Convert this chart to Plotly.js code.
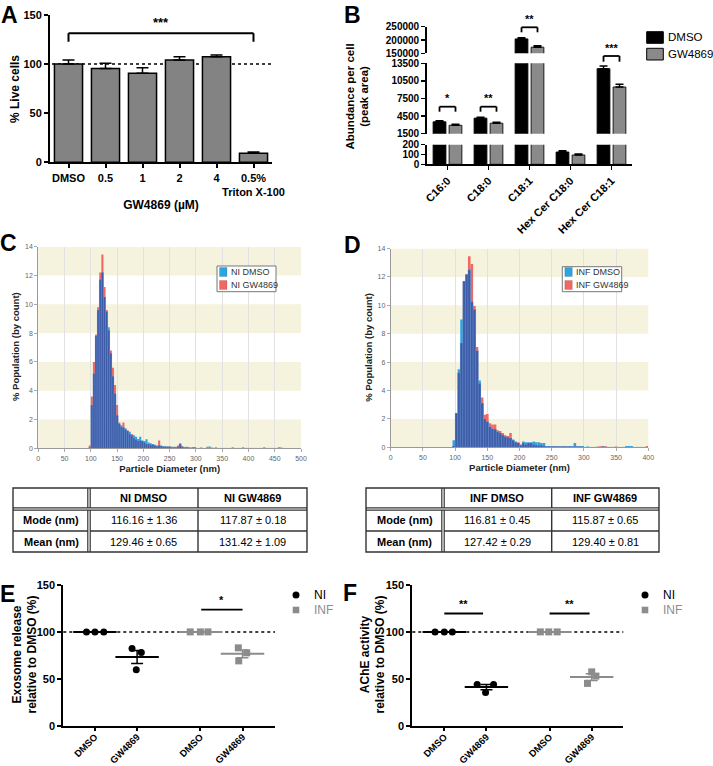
<!DOCTYPE html>
<html><head><meta charset="utf-8">
<script src="https://cdn.plot.ly/plotly-3.0.1.min.js"></script>
<style>html,body{margin:0;padding:0;background:#fff;} #chart{width:713px;height:766px;}</style>
</head><body><div id="chart"></div>
<script>
// ================= DATA =================
// Panel A: cell viability
const aCategories = ['DMSO', '0.5', '1', '2', '4', '0.5%<br>Triton X-100'];
const aLiveCells = [100, 95.4, 90.6, 104.2, 107.6, 9.2];
const aLiveCellsErr = [4.2, 5.4, 5.8, 3.4, 1.7, 1.3];

// Panel B: lipid abundance per cell (peak area)
const bLipids = ['C16:0', 'C18:0', 'C18:1', 'Hex Cer C18:0', 'Hex Cer C18:1'];
const bDMSO = [3520, 4150, 204000, 125, 12580];
const bDMSOErr = [180, 150, 4500, 12, 450];
const bGW = [2940, 3290, 173000, 95, 9460];
const bGWErr = [150, 150, 5000, 10, 450];
const bTicksBottom = [0, 100, 200];
const bTicksMiddle = [1500, 4500, 7500, 10500, 13500];
const bTicksTop = [150000, 200000, 250000];

// Panel C: NTA size distribution, NI (bins of 4 nm, first centre 98 nm)
const cBinStart = 98, cBinWidth = 4;
const cNIDMSO = [
  0.05, 3.0, 5.2, 7.8, 9.6, 11.7, 12.2, 10.5, 9.5, 8.4,
  6.6, 5.0, 3.8, 2.3, 1.7, 1.6, 1.45, 1.4, 1.2, 1.15,
  0.9, 0.9, 0.8, 0.65, 0.8, 0.55, 0.5, 0.62, 0.4, 0.35,
  0.3, 0.25, 0.2, 0.2, 0.2, 0.15, 0.15, 0.1, 0.1, 0.1,
  0.1, 0.05, 0.1, 0.3, 0.1, 0.05, 0.1, 0.05, 0.05, 0.05,
  0.05, 0, 0, 0.05, 0, 0, 0.1, 0.12, 0.05, 0,
  0, 0, 0, 0, 0, 0, 0, 0, 0, 0,
  0, 0, 0, 0, 0, 0, 0, 0, 0, 0,
  0, 0, 0, 0, 0, 0, 0, 0, 0, 0,
  0.08, 0.05, 0
];
const cNIGW = [
  0.2, 3.6, 6.0, 7.9, 9.8, 12.2, 13.45, 11.2, 9.6, 8.2,
  6.8, 5.6, 4.4, 3.0, 1.8, 1.5, 1.8, 1.3, 1.25, 1.0,
  1.0, 0.7, 0.6, 0.5, 0.55, 0.5, 0.4, 0.3, 0.3, 0.25,
  0.25, 0.2, 0.15, 0.55, 0.15, 0.1, 0.1, 0.1, 0.15, 0.05,
  0.05, 0.1, 0.2, 0.35, 0.15, 0.05, 0.05, 0.05, 0, 0.05,
  0.05, 0, 0, 0, 0, 0, 0, 0, 0, 0,
  0.08, 0, 0, 0, 0, 0, 0, 0, 0.08, 0,
  0, 0, 0, 0.08, 0, 0, 0, 0, 0, 0,
  0, 0, 0, 0.08, 0, 0, 0, 0, 0, 0,
  0, 0, 0
];

// Panel D: NTA size distribution, INF
const dBinStart = 98, dBinWidth = 4;
const dINFDMSO = [
  0.5, 2.4, 5.5, 9.0, 11.7, 12.15, 12.5, 10.25, 9.7, 6.8,
  4.7, 3.1, 2.0, 1.8, 1.45, 1.3, 1.27, 1.1, 1.0, 0.87,
  0.75, 0.7, 0.65, 0.55, 0.4, 0.3, 0.15, 0.4, 0.35, 0.35,
  0.35, 0.4, 0.35, 0.35, 0.3, 0.3, 0.1, 0.1, 0.05, 0.1,
  0.05, 0.05, 0.05, 0.05, 0.05, 0.1, 0.05, 0.3, 0.05, 0.1,
  0.1, 0, 0.05, 0, 0, 0, 0, 0, 0.05, 0,
  0, 0, 0, 0, 0, 0, 0, 0.1, 0.1, 0.1,
  0, 0, 0, 0, 0, 0
];
const dINFGW = [
  0.1, 2.4, 5.25, 7.35, 11.7, 12.2, 13.45, 12.9, 9.95, 7.07,
  4.5, 3.5, 2.3, 2.35, 1.7, 1.6, 1.6, 1.2, 1.15, 1.0,
  0.85, 0.8, 1.0, 0.5, 0.35, 0.35, 0.2, 0.3, 0.2, 0.3,
  0.3, 0.2, 0.15, 0.15, 0.15, 0.1, 0.05, 0.05, 0.1, 0.05,
  0.1, 0.05, 0.05, 0.1, 0.05, 0.05, 0.05, 0.05, 0.05, 0.05,
  0, 0, 0, 0, 0, 0, 0.05, 0.08, 0.08, 0.08,
  0, 0, 0, 0.05, 0, 0, 0, 0, 0, 0,
  0, 0, 0, 0, 0, 0.1
];

// Tables
const tRows = ['Mode (nm)', 'Mean (nm)'];
const tNIHeader = ['NI DMSO', 'NI GW4869'];
const tNIDMSO = ['116.16 ± 1.36', '129.46 ± 0.65'];
const tNIGW = ['117.87 ± 0.18', '131.42 ± 1.09'];
const tINFHeader = ['INF DMSO', 'INF GW4869'];
const tINFDMSO = ['116.81 ± 0.45', '127.42 ± 0.29'];
const tINFGW = ['115.87 ± 0.65', '129.40 ± 0.81'];

// Panels E, F
const efTickText = ['DMSO', 'GW4869', 'DMSO', 'GW4869'];
const eNIDMSO = [100, 100, 100];
const eNIGW = [82.3, 78.0, 59.6];
const eINFDMSO = [100, 100, 100];
const eINFGW = [83.0, 77.7, 69.1];
const fNIDMSO = [100, 100, 100];
const fNIGW = [44.0, 44.0, 35.5];
const fINFDMSO = [100, 100, 100];
const fINFGW = [57.4, 52.9, 45.1];

// ================= LAYOUT HELPERS =================
const W = 713, H = 766;
const fx = p => p / W;
const fy = p => 1 - p / H;
const FONT = 'Liberation Sans, Arial, sans-serif';
const NARROW = 'Liberation Sans Narrow, Liberation Sans, Arial, sans-serif';
const RED = '#f06862', BLUE = '#2ba4e0', NAVY = '#3d5ca8', GRAYBAR = '#838383', INFGRAY = '#8c8c8c';
const zeros = n => new Array(n).fill(0);
const mean = a => a.reduce((s, v) => s + v, 0) / a.length;
const sem = a => { const m = mean(a); return Math.sqrt(a.reduce((s, v) => s + (v - m) * (v - m), 0) / (a.length - 1)) / Math.sqrt(a.length); };

const traces = [];
const shapes = [];
const annotations = [];
const pline = (x0, y0, x1, y1, color, width, dash) => shapes.push({ type: 'line', xref: 'paper', yref: 'paper', x0: fx(x0), y0: fy(y0), x1: fx(x1), y1: fy(y1), line: { color: color, width: width, dash: dash || 'solid' } });
const ptext = (x, y, text, font, xanchor, angle) => annotations.push({ xref: 'paper', yref: 'paper', x: fx(x), y: fy(y), text: text, showarrow: false, xanchor: xanchor || 'center', yanchor: 'middle', textangle: angle || 0, font: font });
const tfBold = s => ({ family: FONT, size: s, weight: 'bold', color: '#000' });

// ---------- A ----------
traces.push({
  type: 'bar', x: aCategories, y: aLiveCells, xaxis: 'x', yaxis: 'y', width: 0.76,
  marker: { color: GRAYBAR, line: { color: '#000', width: 1.5 } },
  error_y: { type: 'data', array: aLiveCellsErr, arrayminus: zeros(aLiveCells.length), symmetric: false, color: '#000', thickness: 1.5, width: 6 },
  showlegend: false, hoverinfo: 'none'
});
shapes.push({ type: 'line', xref: 'paper', yref: 'y', x0: fx(52), x1: fx(272), y0: 100, y1: 100, line: { color: '#000', width: 1.5, dash: 'dot' }, layer: 'below' });
shapes.push({ type: 'line', xref: 'x', yref: 'y', x0: 0, x1: 5, y0: 131.4, y1: 131.4, line: { color: '#000', width: 2 } });
shapes.push({ type: 'line', xref: 'x', yref: 'y', x0: 0, x1: 0, y0: 131.4, y1: 122.8, line: { color: '#000', width: 2 } });
shapes.push({ type: 'line', xref: 'x', yref: 'y', x0: 5, x1: 5, y0: 131.4, y1: 122.8, line: { color: '#000', width: 2 } });
annotations.push({ xref: 'x', yref: 'y', x: 2.5, y: 133, text: '***', showarrow: false, yanchor: 'bottom', font: tfBold(13) });
ptext(15, 89, '% Live cells', tfBold(12), 'center', -90);

// ---------- B ----------
['y2', 'y3', 'y4'].forEach(ya => {
  traces.push({
    type: 'bar', x: bLipids, y: bDMSO, xaxis: 'x2', yaxis: ya, width: 0.31, offset: -0.35, name: 'DMSO',
    marker: { color: '#000', line: { color: '#000', width: 1 } },
    error_y: { type: 'data', array: bDMSOErr, arrayminus: zeros(bDMSO.length), symmetric: false, color: '#000', thickness: 1.5, width: 4 },
    showlegend: false, hoverinfo: 'none'
  });
  traces.push({
    type: 'bar', x: bLipids, y: bGW, xaxis: 'x2', yaxis: ya, width: 0.31, offset: 0.04, name: 'GW4869',
    marker: { color: '#8a8a8a', line: { color: '#1a1a1a', width: 1 } },
    error_y: { type: 'data', array: bGWErr, arrayminus: zeros(bGW.length), symmetric: false, color: '#000', thickness: 1.5, width: 4 },
    showlegend: false, hoverinfo: 'none'
  });
});
function bBracket(ci, yTop, yBot, label) {
  const xa = ci - 0.195, xb = ci + 0.195;
  shapes.push({ type: 'line', xref: 'x2', yref: 'paper', x0: xa, x1: xb, y0: fy(yTop), y1: fy(yTop), line: { color: '#000', width: 1.8 } });
  shapes.push({ type: 'line', xref: 'x2', yref: 'paper', x0: xa, x1: xa, y0: fy(yTop), y1: fy(yBot), line: { color: '#000', width: 1.8 } });
  shapes.push({ type: 'line', xref: 'x2', yref: 'paper', x0: xb, x1: xb, y0: fy(yTop), y1: fy(yBot), line: { color: '#000', width: 1.8 } });
  annotations.push({ xref: 'x2', yref: 'paper', x: ci, y: fy(yTop - 0.5), text: label, showarrow: false, yanchor: 'bottom', font: tfBold(11) });
}
bBracket(0, 106.7, 111.7, '*');
bBracket(1, 106.7, 111.7, '**');
bBracket(2, 27.3, 32.3, '**');
bBracket(4, 56, 61.7, '***');
ptext(356.5, 97, 'Abundance per cell<br>(peak area)', tfBold(11.5), 'center', -90);
// B legend
shapes.push({ type: 'rect', xref: 'paper', yref: 'paper', x0: fx(646.7), x1: fx(663.3), y0: fy(43.3), y1: fy(31.7), fillcolor: '#000', line: { color: '#000', width: 1 } });
shapes.push({ type: 'rect', xref: 'paper', yref: 'paper', x0: fx(646.7), x1: fx(663.3), y0: fy(60), y1: fy(48.3), fillcolor: '#8a8a8a', line: { color: '#000', width: 1 } });
ptext(665.5, 37.5, 'DMSO', { family: FONT, size: 11.5, color: '#000' }, 'left');
ptext(665.5, 54.2, 'GW4869', { family: FONT, size: 11.5, color: '#000' }, 'left');

// ---------- C & D histograms ----------
function addHist(xa, ya, x0, dx, dmso, gw) {
  const overlap = dmso.map((v, i) => Math.min(v, gw[i]));
  traces.push({ type: 'bar', x0: x0, dx: dx, y: gw, width: dx, xaxis: xa, yaxis: ya, marker: { color: RED, line: { width: 0 } }, showlegend: false, hoverinfo: 'none' });
  traces.push({ type: 'bar', x0: x0, dx: dx, y: dmso, width: dx, xaxis: xa, yaxis: ya, marker: { color: BLUE, line: { width: 0 } }, showlegend: false, hoverinfo: 'none' });
  traces.push({ type: 'bar', x0: x0, dx: dx, y: overlap, width: dx, xaxis: xa, yaxis: ya, marker: { color: NAVY, line: { width: 0.4, color: 'rgba(140,170,230,0.6)' } }, showlegend: false, hoverinfo: 'none' });
}
addHist('x3', 'y5', cBinStart, cBinWidth, cNIDMSO, cNIGW);
addHist('x4', 'y6', dBinStart, dBinWidth, dINFDMSO, dINFGW);
[[38.3, 301, 'y5'], [390.7, 648.3, 'y6']].forEach(([l, r, yr]) => {
  [0, 4, 8, 12].forEach(b => {
    shapes.push({ type: 'rect', xref: 'paper', yref: yr, x0: fx(l), x1: fx(r), y0: b, y1: b + 2, fillcolor: '#f5f3dd', line: { width: 0 }, layer: 'below' });
  });
});
function histLegend(x0, x1, y0, y1, labels) {
  shapes.push({ type: 'rect', xref: 'paper', yref: 'paper', x0: fx(x0), x1: fx(x1), y0: fy(y1), y1: fy(y0), fillcolor: '#fff', line: { color: '#777', width: 1 } });
  const ys = [272, 285];
  const cols = [BLUE, RED];
  labels.forEach((t, i) => {
    shapes.push({ type: 'rect', xref: 'paper', yref: 'paper', x0: fx(x0 + 2.5), x1: fx(x0 + 10), y0: fy(ys[i] + 4.5), y1: fy(ys[i] - 4.5), fillcolor: cols[i], line: { color: 'rgba(0,0,0,0.25)', width: 0.5 } });
    ptext(x0 + 11.5, ys[i], t, { family: FONT, size: 9, color: '#333' }, 'left');
  });
}
histLegend(217, 276, 266, 291.7, ['NI DMSO', 'NI GW4869']);
histLegend(562.3, 621.7, 266.7, 291.7, ['INF DMSO', 'INF GW4869']);
const histTitleFont = { family: NARROW, size: 9.5, weight: 'bold', color: '#222' };
ptext(15, 347, '% Population (by count)', histTitleFont, 'center', -90);
ptext(368.3, 347.5, '% Population (by count)', histTitleFont, 'center', -90);

// ---------- Tables (drawn as cells with borders + text) ----------
function addTable(xs, ys, header, c1, c2) {
  const cols = [tRows.map(s => '<b>' + s + '</b>'), c1, c2];
  const head = ['', '<b>' + header[0] + '</b>', '<b>' + header[1] + '</b>'];
  shapes.push({ type: 'rect', xref: 'paper', yref: 'paper', x0: fx(xs[0]), x1: fx(xs[3]), y0: fy(ys[3]), y1: fy(ys[0]), fillcolor: '#fff', line: { color: '#333', width: 1.4 } });
  pline(xs[2], ys[0], xs[2], ys[3], '#333', 1.4);
  pline(xs[0], ys[2], xs[3], ys[2], '#333', 1.4);
  // double lines
  pline(xs[1], ys[0], xs[1], ys[3], '#333', 3.6);
  pline(xs[1], ys[0] + 0.8, xs[1], ys[3] - 0.8, '#fff', 1.2);
  pline(xs[0], ys[1], xs[3], ys[1], '#333', 3.6);
  pline(xs[0] + 0.8, ys[1], xs[3] - 0.8, ys[1], '#fff', 1.2);
  const tf = { family: FONT, size: 11, color: '#000' };
  for (let c = 0; c < 3; c++) {
    const cx = (xs[c] + xs[c + 1]) / 2;
    if (head[c]) ptext(cx, (ys[0] + ys[1]) / 2, head[c], tf);
    for (let r = 0; r < 2; r++) ptext(cx, (ys[r + 1] + ys[r + 2]) / 2, cols[c][r], tf);
  }
}
addTable([13, 89, 198, 307], [488, 509, 531, 552], tNIHeader, tNIDMSO, tNIGW);
addTable([366, 443, 551.7, 659], [488, 509, 531, 552], tINFHeader, tINFDMSO, tINFGW);

// ---------- E & F ----------
const efPos = [1, 2, 3.5, 4.5];
function addGroup(xa, ya, pos, offsets, vals, color, symbol) {
  const m = mean(vals), s = sem(vals);
  traces.push({ type: 'scatter', mode: 'markers', x: [pos], y: [m], xaxis: xa, yaxis: ya, cliponaxis: false,
    marker: { symbol: 'line-ew-open', size: 31, color: color, line: { width: 2, color: color } },
    error_y: { type: 'data', array: [s], visible: s > 0, color: color, thickness: 1.5, width: 6 },
    showlegend: false, hoverinfo: 'none' });
  traces.push({ type: 'scatter', mode: 'markers', x: offsets.map(o => pos + o), y: vals, xaxis: xa, yaxis: ya, cliponaxis: false,
    marker: { symbol: symbol, size: 7, color: color, line: { width: 0 } }, showlegend: false, hoverinfo: 'none' });
}
addGroup('x5', 'y7', efPos[0], [-0.2, 0, 0.21], eNIDMSO, '#000', 'circle');
addGroup('x5', 'y7', efPos[1], [-0.12, 0.1, -0.02], eNIGW, '#000', 'circle');
addGroup('x5', 'y7', efPos[2], [-0.24, 0, 0.18], eINFDMSO, INFGRAY, 'square');
addGroup('x5', 'y7', efPos[3], [-0.1, 0.1, -0.09], eINFGW, INFGRAY, 'square');
addGroup('x6', 'y8', efPos[0], [-0.22, 0, 0.19], fNIDMSO, '#000', 'circle');
addGroup('x6', 'y8', efPos[1], [-0.22, 0.17, -0.02], fNIGW, '#000', 'circle');
addGroup('x6', 'y8', efPos[2], [-0.22, -0.02, 0.18], fINFDMSO, INFGRAY, 'square');
addGroup('x6', 'y8', efPos[3], [0, 0.1, -0.1], fINFGW, INFGRAY, 'square');
[[63.3, 275, 'y7'], [412.3, 623.3, 'y8']].forEach(([l, r, yr]) => {
  shapes.push({ type: 'line', xref: 'paper', yref: yr, x0: fx(l), x1: fx(r), y0: 100, y1: 100, line: { color: '#000', width: 1.5, dash: 'dot' }, layer: 'below' });
});
function sigLine(xa, ya, xA, xB, yv, label) {
  shapes.push({ type: 'line', xref: xa, yref: ya, x0: xA, x1: xB, y0: yv, y1: yv, line: { color: '#000', width: 1.8 } });
  annotations.push({ xref: xa, yref: ya, x: (xA + xB) / 2, y: yv + 1.5, text: label, showarrow: false, yanchor: 'bottom', font: tfBold(11) });
}
sigLine('x5', 'y7', 3.52, 4.5, 123.8, '*');
sigLine('x6', 'y8', 1, 1.92, 119.6, '**');
sigLine('x6', 'y8', 3.5, 4.45, 119.6, '**');
function efLegend(cx, tx) {
  shapes.push({ type: 'circle', xref: 'paper', yref: 'paper', x0: fx(cx - 3.5), x1: fx(cx + 3.5), y0: fy(598.5), y1: fy(591.5), fillcolor: '#000', line: { width: 0 } });
  shapes.push({ type: 'rect', xref: 'paper', yref: 'paper', x0: fx(cx - 3.3), x1: fx(cx + 3.3), y0: fy(613.3), y1: fy(606.7), fillcolor: INFGRAY, line: { width: 0 } });
  ptext(tx, 595, 'NI', { family: FONT, size: 12, color: '#000' }, 'left');
  ptext(tx, 610, 'INF', { family: FONT, size: 12, color: INFGRAY }, 'left');
}
efLegend(296, 312);
efLegend(645, 661);
ptext(24.5, 655, 'Exosome release<br>relative to DMSO (%)', tfBold(12), 'center', -90);
ptext(372.5, 655, 'AChE activity<br>relative to DMSO (%)', tfBold(12), 'center', -90);

// ---------- Panel letters ----------
[['A', 9, 15.5], ['B', 352, 15.5], ['C', 8, 243], ['D', 352, 245], ['E', 7, 594], ['F', 350, 593]].forEach(([t, x, y]) => {
  ptext(x, y, t, { family: FONT, size: 23, weight: 'bold', color: '#000' });
});

// ================= AXES =================
const blackAxis = { showline: true, linecolor: '#000', linewidth: 2, ticks: 'outside', ticklen: 5, tickwidth: 2, tickcolor: '#000', showgrid: false, zeroline: false, fixedrange: true };
const histAxis = { showline: true, linecolor: '#999', linewidth: 1, ticks: 'outside', ticklen: 3, tickwidth: 1, tickcolor: '#aaa', zeroline: false, fixedrange: true, tickfont: { family: FONT, size: 7, color: '#666' } };

const layout = {
  width: W, height: H, margin: { l: 0, r: 0, t: 0, b: 0 },
  paper_bgcolor: '#fff', plot_bgcolor: 'rgba(0,0,0,0)',
  barmode: 'overlay', showlegend: false,
  font: { family: FONT },
  // A
  xaxis: Object.assign({}, blackAxis, { domain: [fx(50), fx(272)], anchor: 'y', type: 'category', range: [-0.5, 5.5], ticklen: 4, tickfont: tfBold(11),
    title: { text: 'GW4869 (µM)', font: tfBold(12), standoff: 4 } }),
  yaxis: Object.assign({}, blackAxis, { domain: [fy(162.3), fy(15)], anchor: 'x', range: [0, 150], tickvals: [0, 50, 100, 150], ticklen: 4, tickfont: tfBold(11) }),
  // B
  xaxis2: Object.assign({}, blackAxis, { domain: [fx(427), fx(632)], anchor: 'y2', type: 'category', range: [-0.5, 4.5], linewidth: 1.8, ticklen: 4, tickwidth: 1.5, tickangle: -45, tickfont: tfBold(11) }),
  yaxis2: Object.assign({}, blackAxis, { domain: [fy(164.3), fy(144.7)], anchor: 'x2', range: [0, 200], tickvals: bTicksBottom, tickformat: 'd', linewidth: 1.8, ticklen: 4, tickwidth: 1.5, tickfont: tfBold(10) }),
  yaxis3: Object.assign({}, blackAxis, { domain: [fy(133.7), fy(63.3)], anchor: 'x2', range: [1500, 13500], tickvals: bTicksMiddle, tickformat: 'd', linewidth: 1.8, ticklen: 4, tickwidth: 1.5, tickfont: tfBold(10) }),
  yaxis4: Object.assign({}, blackAxis, { domain: [fy(53.3), fy(26.7)], anchor: 'x2', range: [150000, 250000], tickvals: bTicksTop, tickformat: 'd', linewidth: 1.8, ticklen: 4, tickwidth: 1.5, tickfont: tfBold(10) }),
  // C
  xaxis3: Object.assign({}, histAxis, { domain: [fx(38.3), fx(301)], anchor: 'y5', range: [0, 500], dtick: 50, tick0: 0, showgrid: true, gridcolor: '#e2e2e2', gridwidth: 1,
    title: { text: 'Particle Diameter (nm)', font: histTitleFont, standoff: 4 } }),
  yaxis5: Object.assign({}, histAxis, { domain: [fy(448.3), fy(246.7)], anchor: 'x3', range: [0, 14], dtick: 2, showgrid: false }),
  // D
  xaxis4: Object.assign({}, histAxis, { domain: [fx(390.7), fx(648.3)], anchor: 'y6', range: [0, 400], dtick: 50, tick0: 0, showgrid: true, gridcolor: '#e2e2e2', gridwidth: 1,
    title: { text: 'Particle Diameter (nm)', font: histTitleFont, standoff: 4 } }),
  yaxis6: Object.assign({}, histAxis, { domain: [fy(447.3), fy(248.5)], anchor: 'x4', range: [0, 14], dtick: 2, showgrid: false }),
  // E
  xaxis5: Object.assign({}, blackAxis, { domain: [fx(63.3), fx(275)], anchor: 'y7', range: [0.25, 5.27], tickvals: efPos, ticktext: efTickText, tickangle: -45, ticklen: 3, ticklabelstandoff: -3, tickfont: tfBold(9.5) }),
  yaxis7: Object.assign({}, blackAxis, { domain: [fy(725.7), fy(585)], anchor: 'x5', range: [0, 150], tickvals: [0, 50, 100, 150], ticklen: 4, tickfont: tfBold(11) }),
  // F
  xaxis6: Object.assign({}, blackAxis, { domain: [fx(412.3), fx(623.3)], anchor: 'y8', range: [0.24, 5.25], tickvals: efPos, ticktext: efTickText, tickangle: -45, ticklen: 3, ticklabelstandoff: -3, tickfont: tfBold(9.5) }),
  yaxis8: Object.assign({}, blackAxis, { domain: [fy(725.7), fy(585)], anchor: 'x6', range: [0, 150], tickvals: [0, 50, 100, 150], ticklen: 4, tickfont: tfBold(11) }),
  shapes: shapes,
  annotations: annotations
};

Plotly.newPlot('chart', traces, layout, { staticPlot: true, displayModeBar: false });
</script>
</body></html>
